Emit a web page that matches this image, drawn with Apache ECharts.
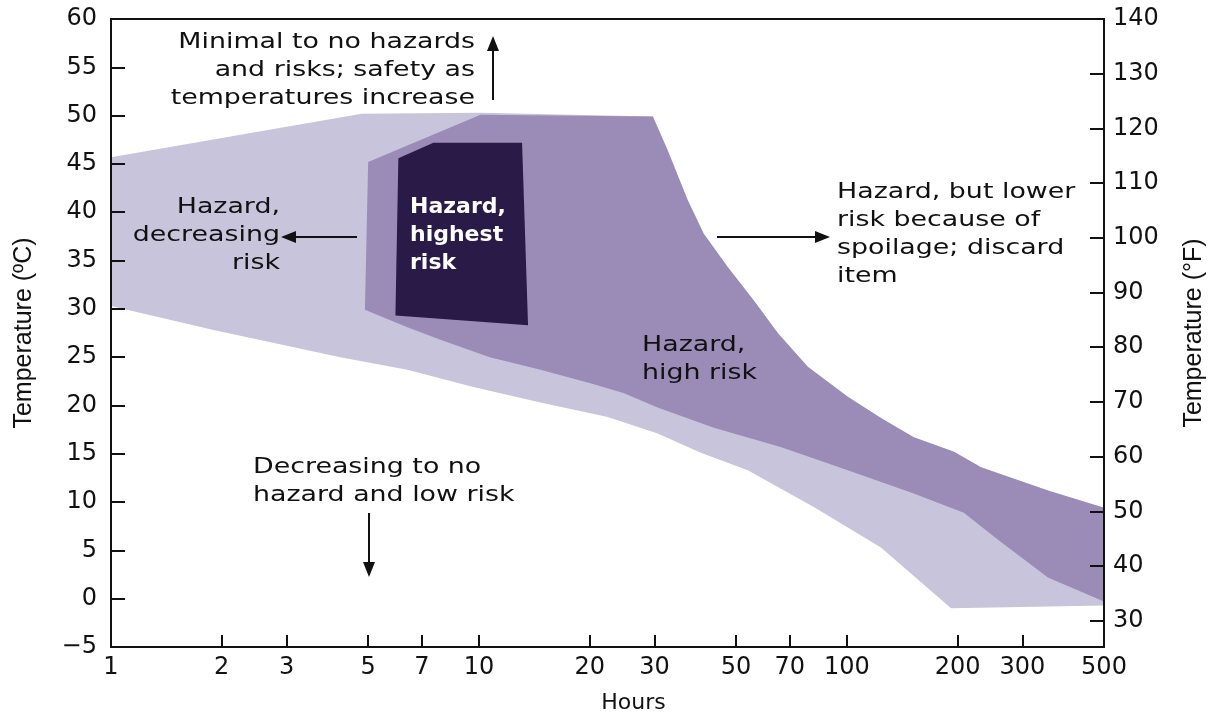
<!DOCTYPE html>
<html><head><meta charset="utf-8">
<script src="https://cdn.jsdelivr.net/npm/echarts@6/dist/echarts.min.js"></script>
<style>html,body{margin:0;padding:0;background:#fff;}#c{width:1211px;height:715px;}</style>
</head><body><div id="c"></div>
<script>
// ---- data (hours, °C) ----
const hourTicks = [1, 2, 3, 5, 7, 10, 20, 30, 50, 70, 100, 200, 300, 500];
const fahrenheitTicks = [30, 40, 50, 60, 70, 80, 90, 100, 110, 120, 130, 140];
const celsiusRange = [-5, 60];
const fahrenheitRange = [25.2, 140];

// outer, light zone: "Hazard, decreasing risk" / lower-risk envelope
const lowerRiskZone = [
  [1, 45.7], [4.8, 50.2], [10.1, 50.3], [29.7, 49.9], [32.6, 46.4], [36.9, 41.3],
  [40.8, 37.8], [47.5, 34.3], [55.8, 30.9], [64.9, 27.5], [78.3, 24.0], [100.6, 20.9],
  [123.8, 18.7], [152, 16.7], [195.5, 15.2], [231.5, 13.6], [352, 11.2], [500, 9.4],
  [500, -0.7], [192, -1.0], [123.8, 5.3], [81.3, 9.5], [53.8, 13.3], [40.1, 15.1],
  [30.6, 17.1], [22.4, 18.8], [14.7, 20.3], [9.66, 21.9], [6.39, 23.7], [4.2, 25.0],
  [1.9, 27.8], [1, 30.3]
];
// medium zone: "Hazard, high risk"
const highRiskZone = [
  [5.0, 45.2], [10.1, 50.1], [29.7, 49.9], [32.6, 46.4], [36.9, 41.3], [40.8, 37.8],
  [47.5, 34.3], [55.8, 30.9], [64.9, 27.5], [78.3, 24.0], [100.6, 20.9], [123.8, 18.7],
  [152, 16.7], [195.5, 15.2], [231.5, 13.6], [352, 11.2], [500, 9.4], [500, -0.3],
  [352, 2.2], [257.6, 6.1], [208, 8.9], [152, 10.9], [100.6, 13.3], [66.1, 15.7],
  [43.5, 17.7], [30.6, 19.8], [24.7, 21.3], [20.1, 22.3], [14.7, 23.7], [10.7, 25.0],
  [7.86, 26.8], [6.39, 28.1], [4.9, 29.9]
];
// dark zone: "Hazard, highest risk"
const highestRiskZone = [
  [6.04, 45.6], [7.52, 47.2], [13.1, 47.2], [13.6, 28.3], [5.93, 29.3]
];

// ---- styles ----
const INK = '#111';
const LABEL_FONT = 'DejaVu Sans';
const colors = { light: '#c7c4db', medium: '#9b8cb7', dark: '#2a1a48' };

function zoneSeries(name, pts, color, z) {
  return {
    type: 'custom', name: name, data: pts, z: z, silent: true,
    coordinateSystem: 'cartesian2d', encode: { x: 0, y: 1 },
    renderItem: function (params, api) {
      if (params.dataIndex !== 0) return null;
      const points = pts.map(function (p) { return api.coord(p); });
      return { type: 'polygon', shape: { points: points }, style: { fill: color } };
    }
  };
}

function arrow(x1, y1, x2, y2) {
  const ang = Math.atan2(y2 - y1, x2 - x1);
  const L = 15, W = 6;
  const bx = x2 - L * Math.cos(ang), by = y2 - L * Math.sin(ang);
  const px = -Math.sin(ang) * W, py = Math.cos(ang) * W;
  return [
    { type: 'line', shape: { x1: x1, y1: y1, x2: bx, y2: by }, style: { stroke: INK, lineWidth: 2 }, z: 100 },
    { type: 'polygon', shape: { points: [[x2, y2], [bx + px, by + py], [bx - px, by - py]] }, style: { fill: INK }, z: 100 }
  ];
}

function note(text, x, y, align, opts) {
  opts = opts || {};
  return {
    type: 'text', z: 100, x: x, y: y, scaleX: opts.sx || 1.22, scaleY: 1,
    style: {
      text: text, x: 0, y: 0, align: align, verticalAlign: 'top',
      font: (opts.weight || 'normal') + ' ' + (opts.size || 22) + 'px "' + LABEL_FONT + '"',
      fill: opts.color || INK, lineHeight: opts.lh || 28
    }
  };
}

const chart = echarts.init(document.getElementById('c'), null, { renderer: 'canvas' });

const axisCommon = {
  axisLine: { show: true, onZero: false, lineStyle: { color: INK, width: 2 } },
  axisTick: { show: true, inside: true, length: 14, lineStyle: { color: INK, width: 2 } },
  splitLine: { show: false },
  z: 10
};

chart.setOption({
  animation: false,
  backgroundColor: '#fff',
  grid: {
    left: 111, right: 107, top: 19, bottom: 68, containLabel: false, outerBoundsMode: 'none',
    show: true, borderColor: INK, borderWidth: 2, backgroundColor: 'transparent'
  },
  xAxis: [Object.assign({}, axisCommon, {
    type: 'log', logBase: 10, min: 1, max: 500,
    name: 'Hours', nameLocation: 'middle', nameGap: 45,
    nameTextStyle: { fontFamily: LABEL_FONT, fontSize: 22, color: INK, padding: [0, 0, 0, 52] },
    axisTick: Object.assign({}, axisCommon.axisTick, { length: 12, customValues: hourTicks }),
    axisLabel: { customValues: hourTicks, margin: 9, fontFamily: LABEL_FONT, fontSize: 24, color: INK },
    minorTick: { show: false }, minorSplitLine: { show: false }
  })],
  yAxis: [
    Object.assign({}, axisCommon, {
      type: 'value', position: 'left', min: celsiusRange[0], max: celsiusRange[1], interval: 5,
      name: 'Temperature (ºC)', nameLocation: 'middle', nameRotate: 90, nameGap: 74,
      nameTextStyle: { fontFamily: 'Liberation Sans', fontSize: 25, color: INK },
      axisLabel: {
        margin: 14, fontFamily: LABEL_FONT, fontSize: 24, color: INK,
        formatter: function (v) { return v < 0 ? '\u2212' + Math.abs(v) : String(v); }
      }
    }),
    Object.assign({}, axisCommon, {
      type: 'value', position: 'right', min: fahrenheitRange[0], max: fahrenheitRange[1],
      name: 'Temperature (°F)', nameLocation: 'middle', nameRotate: 90, nameGap: 78,
      nameTextStyle: { fontFamily: 'Liberation Sans', fontSize: 25, color: INK },
      axisTick: Object.assign({}, axisCommon.axisTick, { customValues: fahrenheitTicks }),
      axisLabel: { customValues: fahrenheitTicks, margin: 9, fontFamily: LABEL_FONT, fontSize: 24, color: INK }
    })
  ],
  series: [
    zoneSeries('Hazard, decreasing risk', lowerRiskZone, colors.light, 2),
    zoneSeries('Hazard, high risk', highRiskZone, colors.medium, 3),
    zoneSeries('Hazard, highest risk', highestRiskZone, colors.dark, 4)
  ],
  graphic: [].concat(
    [note('Minimal to no hazards\nand risks; safety as\ntemperatures increase', 475, 28, 'right')],
    arrow(493, 100, 493, 36),
    [note('Hazard,\ndecreasing\nrisk', 280, 193, 'right')],
    arrow(357, 237, 281, 237),
    [note('Hazard,\nhighest\nrisk', 410, 193, 'left', { color: '#fff', weight: 'bold', sx: 1 })],
    [note('Hazard,\nhigh risk', 642, 331, 'left')],
    arrow(717, 237, 830, 237),
    [note('Hazard, but lower\nrisk because of\nspoilage; discard\nitem', 837, 178, 'left')],
    [note('Decreasing to no\nhazard and low risk', 253, 453, 'left')],
    arrow(369, 513, 369, 577)
  )
});
</script></body></html>
